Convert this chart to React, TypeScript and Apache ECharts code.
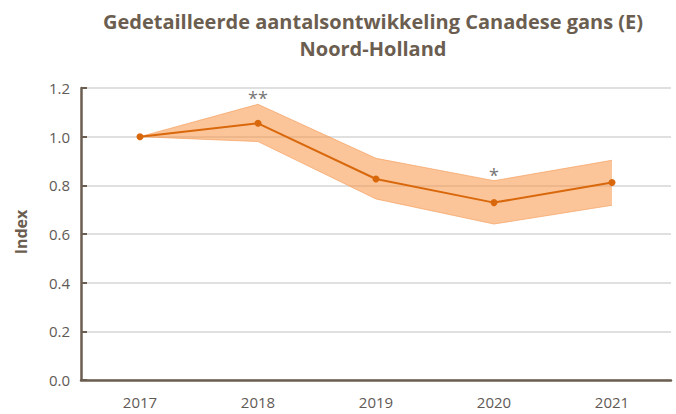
import React, { useEffect, useRef } from "react";
import * as echarts from "echarts";

const years = ["2017", "2018", "2019", "2020", "2021"];
const indexValues = [1.0, 1.055, 0.826, 0.729, 0.812];
const lowerValues = [1.0, 0.98, 0.744, 0.641, 0.718];
const upperValues = [1.0, 1.133, 0.911, 0.819, 0.903];
const significance = ["", "**", "", "*", ""];

const titleText = "Gedetailleerde aantalsontwikkeling Canadese gans (E)\nNoord-Holland";
const axisColor = "#6b5e50";
const textColor = "#5f5a55";
const font = "'Open Sans', 'Noto Sans', sans-serif";

export default function App() {
  const ref = useRef<HTMLDivElement>(null);
  useEffect(() => {
    document.body.style.margin = "0";
    if (!ref.current) return;
    const chart = echarts.init(ref.current, undefined, { renderer: "svg" });
    const bandDiff = upperValues.map((u, i) => +(u - lowerValues[i]).toFixed(4));
    chart.setOption({
      animation: false,
      title: {
        text: titleText,
        left: 368,
        top: 3,
        textAlign: "center",
        textStyle: {
          fontFamily: font,
          fontWeight: "bold",
          fontSize: 20,
          lineHeight: 27,
          color: axisColor,
        },
      },
      grid: { left: 81, right: 5, top: 88, bottom: 34, containLabel: false },
      xAxis: {
        type: "category",
        data: years,
        boundaryGap: true,
        axisLine: { lineStyle: { color: axisColor, width: 2.5 } },
        axisTick: { alignWithLabel: true, length: 8, lineStyle: { color: axisColor, width: 2 } },
        axisLabel: { color: textColor, fontFamily: font, fontSize: 15, margin: 14 },
      },
      yAxis: {
        type: "value",
        min: 0,
        max: 1.2,
        interval: 0.2,
        name: "Index",
        nameLocation: "middle",
        nameGap: 52,
        nameTextStyle: { color: axisColor, fontFamily: font, fontWeight: "bold", fontSize: 16, padding: [0, 0, 0, 4] },
        axisLine: { show: true, lineStyle: { color: axisColor, width: 2.5 } },
        axisTick: { show: true, inside: true, length: 6, lineStyle: { color: axisColor, width: 2 } },
        axisLabel: {
          color: textColor,
          fontFamily: font,
          fontSize: 15,
          margin: 11,
          formatter: (v: number) => v.toFixed(1),
        },
        splitLine: { lineStyle: { color: "#d6d6d6", width: 1.5 } },
      },
      series: [
        {
          type: "line",
          stack: "band",
          data: lowerValues,
          symbol: "none",
          lineStyle: { color: "rgba(245,160,95,0.7)", width: 1 },
          areaStyle: { opacity: 0 },
          silent: true,
          z: 1,
        },
        {
          type: "line",
          stack: "band",
          data: bandDiff,
          symbol: "none",
          lineStyle: { color: "rgba(245,160,95,0.7)", width: 1 },
          areaStyle: { color: "rgba(247,150,70,0.55)", opacity: 1 },
          silent: true,
          z: 1,
        },
        {
          type: "line",
          data: indexValues,
          symbol: "circle",
          symbolSize: 7,
          itemStyle: { color: "#d9680c" },
          lineStyle: { color: "#d9680c", width: 2 },
          z: 3,
        },
        {
          type: "scatter",
          data: upperValues,
          symbolSize: 0,
          label: {
            show: true,
            position: "top",
            distance: -3,
            color: "#4f4f4f",
            fontFamily: font,
            fontSize: 18,
            formatter: (p: any) => significance[p.dataIndex],
          },
          z: 4,
        },
      ],
    });
    return () => chart.dispose();
  }, []);
  return <div ref={ref} style={{ width: 676, height: 414 }} />;
}
